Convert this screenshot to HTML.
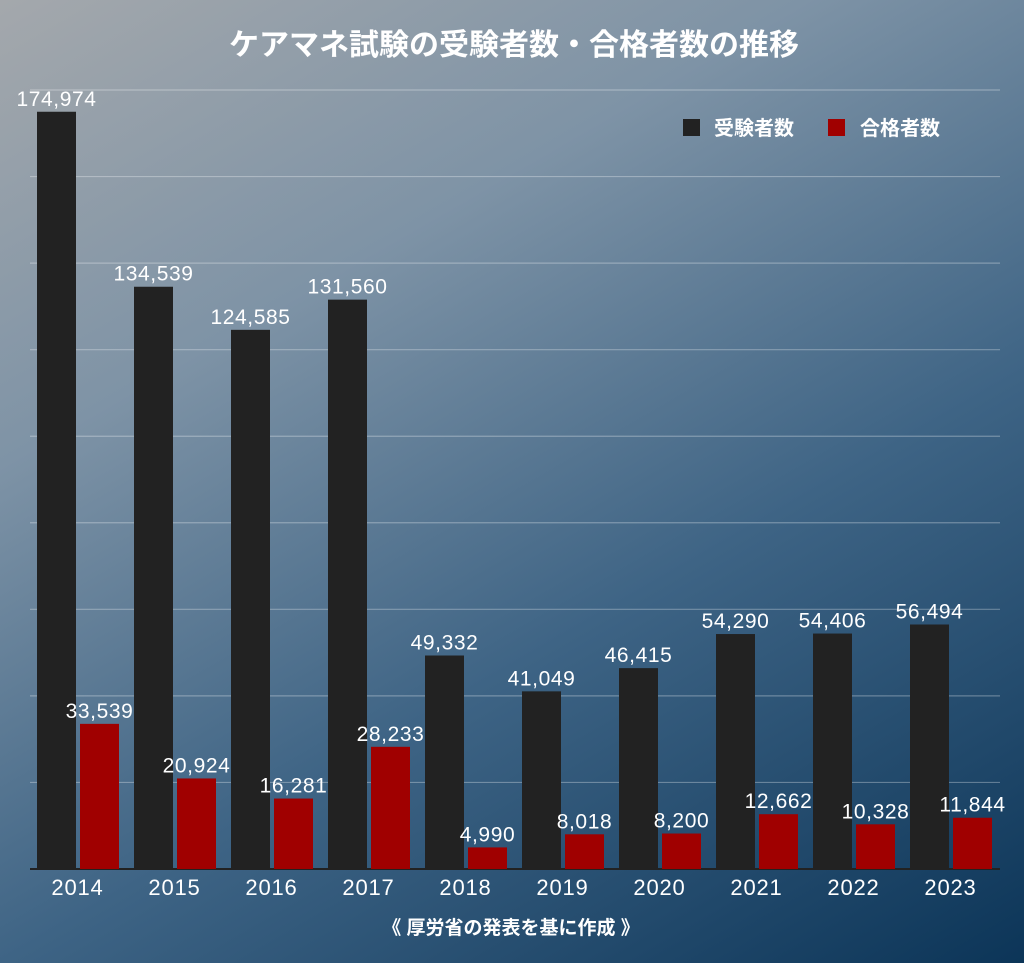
<!DOCTYPE html>
<html><head><meta charset="utf-8"><style>
html,body{margin:0;padding:0}
body{width:1024px;height:963px;overflow:hidden;background:linear-gradient(150deg,#a4a8ac 0%,#7e93a6 30%,#3e6485 62%,#0c3558 100%);font-family:"Liberation Sans","Noto Sans CJK JP",sans-serif}
svg{display:block}
</style></head><body>
<svg id="chart" width="1024" height="963" xmlns="http://www.w3.org/2000/svg" font-family="Liberation Sans, Noto Sans CJK JP, sans-serif">
<text x="514" y="55" text-anchor="middle" font-size="30" font-weight="bold" fill="#fff">ケアマネ試験の受験者数・合格者数の推移</text>
<g id="grid"></g>
<g id="bars"></g>
<g>
<rect x="683" y="119" width="17" height="17" fill="#222"/>
<text x="714" y="135" font-size="20" font-weight="bold" fill="#fff">受験者数</text>
<rect x="828" y="119" width="17" height="17" fill="#a00000"/>
<text x="860" y="135" font-size="20" font-weight="bold" fill="#fff">合格者数</text>
</g>
<text x="511" y="934" text-anchor="middle" font-size="19" font-weight="bold" fill="#fff">《 厚労省の発表を基に作成 》</text>
</svg>
<script>
const years=["2014","2015","2016","2017","2018","2019","2020","2021","2022","2023"];
const examinees=[174974,134539,124585,131560,49332,41049,46415,54290,54406,56494];
const passers=[33539,20924,16281,28233,4990,8018,8200,12662,10328,11844];
const gridTicks=[0,20000,40000,60000,80000,100000,120000,140000,160000,180000];
const NS="http://www.w3.org/2000/svg";
const base=869,top0=90,maxV=180000,x0=29,band=97;
const y=v=>base-(v/maxV)*(base-top0);
const xb=i=>x0+i*band;
const grid=document.getElementById('grid'),bars=document.getElementById('bars');
function mk(t,a,p){const e=document.createElementNS(NS,t);for(const k in a)e.setAttribute(k,a[k]);p.appendChild(e);return e;}
gridTicks.forEach(v=>{
 const l=mk('line',{x1:30,x2:1000,y1:y(v),y2:y(v),stroke:v===0?'#222':'rgba(255,255,255,0.3)','stroke-width':v===0?2:1.2},grid);
 
 
});
const fmt=n=>n.toLocaleString('en-US');
const ls={'font-size':21,fill:'#fff','text-anchor':'middle','letter-spacing':'0.6'};
years.forEach((yr,i)=>{
 const bx=xb(i)+8,rx=xb(i)+51,w=39;
 const b=mk('rect',{x:bx,y:y(examinees[i]),width:w,height:base-y(examinees[i]),fill:'#222'},bars);
 
 
 const r=mk('rect',{x:rx,y:y(passers[i]),width:w,height:base-y(passers[i]),fill:'#a00000'},bars);
 
 
 const t1=mk('text',Object.assign({x:bx+w/2,y:y(examinees[i])-6},ls),bars);
 t1.textContent=fmt(examinees[i]);
 
 
 const t2=mk('text',Object.assign({x:rx+w/2,y:y(passers[i])-6},ls),bars);
 t2.textContent=fmt(passers[i]);
 
 
 const xl=mk('text',{x:xb(i)+band/2,y:895,'text-anchor':'middle','font-size':22,'letter-spacing':'0.8',fill:'#fff'},bars);
 xl.textContent=yr;
 
 
});
</script>
</body></html>
